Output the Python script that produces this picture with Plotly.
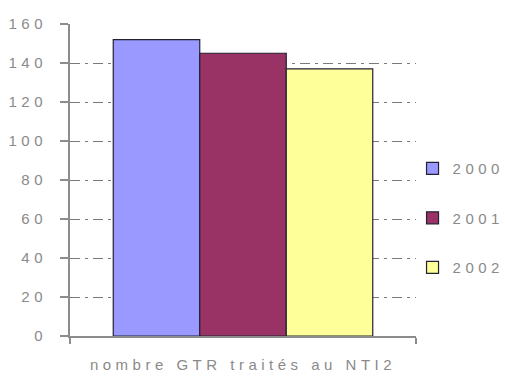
import plotly.graph_objects as go

# Data
category = ["nombre GTR traités au NTI2"]
years = ["2000", "2001", "2002"]
values = [152, 145, 137]
colors = ["#9999FF", "#993366", "#FFFF99"]

TEXT = "#8a8a8a"
AXIS = "#8c8c8c"
FONT = "Liberation Sans, Arial, sans-serif"

fig = go.Figure()
for i, (yr, v, c) in enumerate(zip(years, values, colors)):
    fig.add_trace(go.Bar(
        x=category, y=[v], name=yr,
        marker=dict(color=c, line=dict(color="#222233", width=1.2)),
        legendgroup=yr,
    ))

fig.update_layout(
    width=505, height=380,
    margin=dict(l=70, r=89, t=24, b=44),
    paper_bgcolor="white", plot_bgcolor="white",
    font=dict(family=FONT, size=15, color=TEXT),
    barmode="group", bargap=0.25, bargroupgap=0,
    showlegend=True,
    legend=dict(
        x=0.99, xanchor="left", y=0.378, yanchor="middle",
        font=dict(size=15, color=TEXT),
        tracegroupgap=27, itemwidth=30,
        bgcolor="rgba(0,0,0,0)",
    ),
    xaxis=dict(
        showline=True, linecolor=AXIS, linewidth=2,
        ticks="outside", tickson="boundaries", ticklen=6,
        tickcolor=AXIS, tickwidth=2,
        showgrid=False, ticklabelstandoff=14, automargin=False,
    ),
    yaxis=dict(
        range=[0, 160], dtick=20,
        showline=True, linecolor=AXIS, linewidth=2,
        ticks="outside", ticklen=8, tickcolor=AXIS, tickwidth=1.5,
        showgrid=True, gridcolor="#7a7a7a", gridwidth=1.2,
        griddash="10px,5px,3px,5px",
        zeroline=False, ticklabelstandoff=10, automargin=False,
    ),
)

# widen character spacing of all chart text and let the legend text overflow its box
post = """
document.querySelectorAll('.main-svg text').forEach(function(t){
  t.style.letterSpacing = '4.5px';
});
document.querySelectorAll('.legend .scrollbox').forEach(function(g){
  g.removeAttribute('clip-path');
});
"""

fig.write_html("out.html", post_script=post)
